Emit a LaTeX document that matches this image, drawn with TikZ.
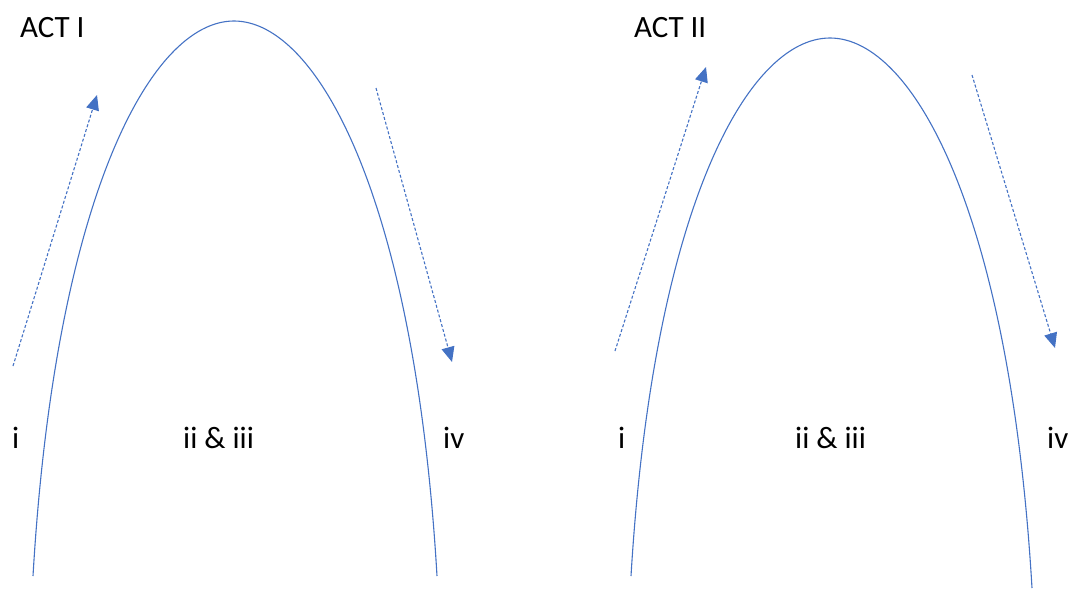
\documentclass[tikz,border=0pt]{standalone}
\usepackage{fontspec}
\setmainfont{Carlito}
\usetikzlibrary{arrows.meta}
\definecolor{arcblue}{HTML}{4472C4}
\tikzset{
  arcline/.style={draw=arcblue, line width=1.1pt},
  dasharrow/.style={draw=arcblue, line width=1.1pt, dash pattern=on 3pt off 2pt, -{Triangle[length=15pt,width=13pt,fill=arcblue]}},
  lbl/.style={anchor=base west, inner sep=0pt, font=\fontsize{31}{37}\selectfont}
}
\begin{document}
\begin{tikzpicture}[x=1pt,y=-1pt]
\useasboundingbox (0,0) rectangle (1069,589);
% Act I
\coordinate (a1l) at (33,576);
\coordinate (a1t) at (234,21);
\coordinate (a1r) at (437,576);
\draw[arcline] (a1l) .. controls (55,200) and (150,21) .. (a1t)
  .. controls (318,21) and (415,200) .. (a1r);
\coordinate (a1s1) at (13,366);
\coordinate (a1e1) at (97,95);
\coordinate (a1s2) at (376,88);
\coordinate (a1e2) at (452,362);
\draw[dasharrow] (a1s1) -- (a1e1);
\draw[dasharrow] (a1s2) -- (a1e2);
\node[lbl] (act1) at (20,37) {ACT I};
\node[lbl] (i1) at (12,448) {i};
\node[lbl] (ii1) at (183,448) {ii \& iii};
\node[lbl] (iv1) at (443,448) {iv};
% Act II
\coordinate (a2l) at (631,576);
\coordinate (a2t) at (830,38);
\coordinate (a2r) at (1032,588);
\draw[arcline] (a2l) .. controls (653,210) and (747,38) .. (a2t)
  .. controls (914,38) and (1010,215) .. (a2r);
\coordinate (a2s1) at (615,351);
\coordinate (a2e1) at (706,67);
\coordinate (a2s2) at (972,75);
\coordinate (a2e2) at (1055,348);
\draw[dasharrow] (a2s1) -- (a2e1);
\draw[dasharrow] (a2s2) -- (a2e2);
\node[lbl] (act2) at (634,37) {ACT II};
\node[lbl] (i2) at (618,448) {i};
\node[lbl] (ii2) at (795,448) {ii \& iii};
\node[lbl] (iv2) at (1047,448) {iv};
\end{tikzpicture}
\end{document}
